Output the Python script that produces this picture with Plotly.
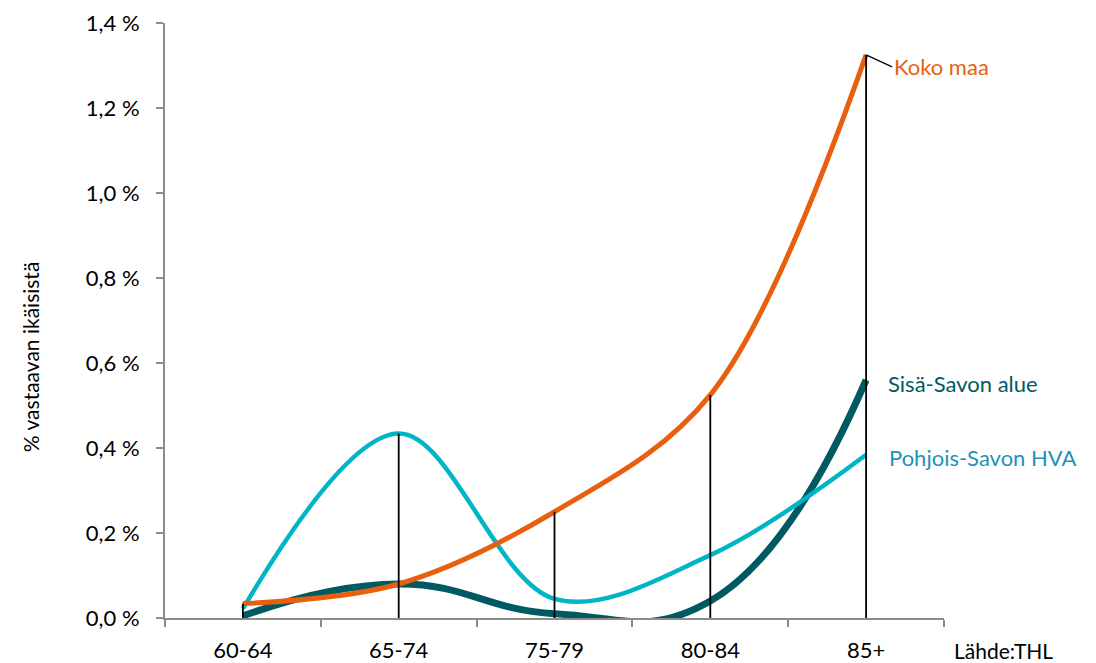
import plotly.graph_objects as go

categories = ["60-64", "65-74", "75-79", "80-84", "85+"]
koko_maa = [0.034, 0.080, 0.250, 0.525, 1.325]
pohjois_savon = [0.022, 0.434, 0.045, 0.148, 0.384]
sisa_savon = [0.005, 0.080, 0.010, 0.040, 0.560]
y_ticks = [0.0, 0.2, 0.4, 0.6, 0.8, 1.0, 1.2, 1.4]
y_tick_labels = ["0,0 %", "0,2 %", "0,4 %", "0,6 %", "0,8 %", "1,0 %", "1,2 %", "1,4 %"]

ORANGE = "#E8600F"
CYAN = "#00B5C6"
DARK = "#005A62"
LABEL_BLUE = "#1C93B8"
FONT = "Lato"

fig = go.Figure()
fig.add_trace(go.Scatter(x=categories, y=sisa_savon, mode="lines",
                         line=dict(color=DARK, width=7, shape="spline", smoothing=1.3),
                         name="Sisä-Savon alue"))
fig.add_trace(go.Scatter(x=categories, y=pohjois_savon, mode="lines",
                         line=dict(color=CYAN, width=4.5, shape="spline", smoothing=1),
                         name="Pohjois-Savon HVA"))
fig.add_trace(go.Scatter(x=categories, y=koko_maa, mode="lines",
                         line=dict(color=ORANGE, width=5, shape="spline", smoothing=1),
                         name="Koko maa"))

# drop lines from highest value down to axis
drop_x, drop_y = [], []
for i, c in enumerate(categories):
    top = max(koko_maa[i], pohjois_savon[i], sisa_savon[i])
    drop_x += [c, c, None]
    drop_y += [0, top, None]
fig.add_trace(go.Scatter(x=drop_x, y=drop_y, mode="lines",
                         line=dict(color="black", width=1.8), hoverinfo="skip"))

fig.add_annotation(x="85+", y=koko_maa[-1], text="Koko maa", showarrow=True,
                   ax=26, ay=12, arrowhead=0, arrowwidth=1.3, arrowcolor="black",
                   xanchor="left", yanchor="middle",
                   font=dict(family=FONT, size=22, color=ORANGE))
fig.add_annotation(x="85+", y=sisa_savon[-1], text="Sisä-Savon alue", showarrow=False,
                   xanchor="left", xshift=20, yshift=-3,
                   font=dict(family=FONT, size=22, color=DARK))
fig.add_annotation(x="85+", y=pohjois_savon[-1], text="Pohjois-Savon HVA", showarrow=False,
                   xanchor="left", xshift=21, yshift=-3,
                   font=dict(family=FONT, size=22, color=LABEL_BLUE))
fig.add_annotation(x=1.1425, y=-0.054, xref="paper", yref="paper", text="Lähde:THL",
                   showarrow=False, xanchor="right", yanchor="middle",
                   font=dict(family=FONT, size=21, color="black"))
fig.add_annotation(x=-0.1733, y=0.44, xref="paper", yref="paper",
                   text="% vastaavan ikäisistä", textangle=-90, showarrow=False,
                   xanchor="center", yanchor="middle",
                   font=dict(family=FONT, size=21, color="black"))

# page body has an 8px default margin, so the figure is sized/offset to compensate
fig.update_layout(
    width=1088, height=655,
    margin=dict(l=157, r=152, t=15, b=45),
    plot_bgcolor="white", paper_bgcolor="white",
    showlegend=False,
    font=dict(family=FONT, size=22, color="black"),
)
fig.update_xaxes(
    type="category", categoryorder="array", categoryarray=categories,
    range=[-0.5, 4.5], showgrid=False, showline=True, linecolor="#8C8C8C", linewidth=2,
    ticks="outside", tickson="boundaries", ticklen=7, tickcolor="#8C8C8C", tickwidth=1.5,
    ticklabelstandoff=12, tickfont=dict(family=FONT, size=22, color="black"),
    automargin=False,
)
fig.update_yaxes(
    range=[0, 1.4], tickvals=y_ticks, ticktext=y_tick_labels,
    showgrid=False, showline=True, linecolor="#8C8C8C", linewidth=2, zeroline=False,
    ticks="outside", ticklen=7, tickcolor="#8C8C8C", tickwidth=1.5,
    ticklabelstandoff=12, tickfont=dict(family=FONT, size=22, color="black"),
    automargin=False,
)

fig.write_html("out.html")
